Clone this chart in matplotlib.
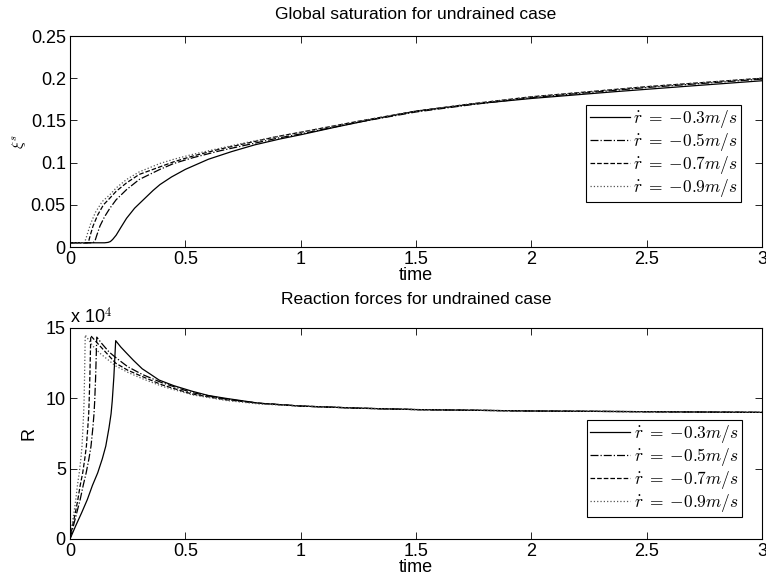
import matplotlib
matplotlib.use("Agg")
import matplotlib.pyplot as plt

plt.rcParams['font.family'] = ['Liberation Sans', 'DejaVu Sans']
plt.rcParams['mathtext.fontset'] = 'cm'

labels = [r'$\dot{r} \;=\; {-}0.3m/s$', r'$\dot{r} \;=\; {-}0.5m/s$',
          r'$\dot{r} \;=\; {-}0.7m/s$', r'$\dot{r} \;=\; {-}0.9m/s$']
styles = ['-', '-.', '--', ':']
colors = ['black', 'black', 'black', '#555555']

# global saturation
sat_t = [
    [0, 0.15, 0.165, 0.175, 0.185, 0.2, 0.22, 0.245, 0.28, 0.318, 0.36, 0.39, 0.44, 0.5, 0.6, 0.7, 0.8,
     0.91, 1.0, 1.15, 1.344, 1.5, 1.734, 2.0, 2.36, 2.7, 3.0],
    [0, 0.1, 0.108, 0.115, 0.13, 0.15, 0.173, 0.2, 0.245, 0.3, 0.39, 0.45, 0.535, 0.65, 0.75, 0.9, 1.0,
     1.25, 1.5, 1.75, 2.0, 2.5, 3.0],
    [0, 0.075, 0.082, 0.09, 0.1, 0.12, 0.145, 0.173, 0.2, 0.245, 0.3, 0.39, 0.45, 0.535, 0.65, 0.75, 0.9,
     1.0, 1.25, 1.5, 1.75, 2.0, 2.5, 3.0],
    [0, 0.06, 0.068, 0.078, 0.09, 0.11, 0.14, 0.173, 0.2, 0.245, 0.3, 0.39, 0.45, 0.535, 0.65, 0.75, 0.9,
     1.0, 1.25, 1.5, 1.75, 2.0, 2.5, 3.0],
]
sat_v = [
    [0.005, 0.005, 0.0055, 0.0065, 0.009, 0.014, 0.023, 0.034, 0.046, 0.056, 0.067, 0.074, 0.083, 0.092,
     0.104, 0.113, 0.121, 0.128, 0.133, 0.142, 0.153, 0.161, 0.169, 0.176, 0.184, 0.191, 0.197],
    [0.005, 0.005, 0.007, 0.013, 0.025, 0.036, 0.046, 0.056, 0.068, 0.080, 0.092, 0.099, 0.106, 0.114,
     0.120, 0.129, 0.134, 0.148, 0.160, 0.169, 0.177, 0.189, 0.199],
    [0.005, 0.005, 0.008, 0.016, 0.025, 0.038, 0.050, 0.058, 0.066, 0.076, 0.086, 0.095, 0.101, 0.108,
     0.116, 0.122, 0.131, 0.136, 0.149, 0.161, 0.170, 0.178, 0.190, 0.200],
    [0.005, 0.005, 0.009, 0.018, 0.028, 0.041, 0.054, 0.062, 0.070, 0.080, 0.089, 0.099, 0.104, 0.110,
     0.117, 0.123, 0.131, 0.136, 0.149, 0.161, 0.170, 0.178, 0.190, 0.200],
]

# reaction forces in units of 1e4
force_t = [
    [0, 0.025, 0.05, 0.075, 0.097, 0.12, 0.14, 0.155, 0.169, 0.178, 0.183, 0.19, 0.198,
     0.22, 0.24, 0.275, 0.313, 0.35, 0.386, 0.45, 0.53, 0.6, 0.675, 0.82, 1.0, 1.25, 1.5, 2.0, 2.5, 3.0],
    [0, 0.015, 0.029, 0.044, 0.057, 0.07, 0.082, 0.091, 0.099, 0.104, 0.107, 0.111, 0.116,
     0.14, 0.169, 0.198, 0.25, 0.313, 0.4, 0.53, 0.675, 0.82, 1.0, 1.25, 1.5, 2.0, 2.5, 3.0],
    [0, 0.011, 0.023, 0.034, 0.044, 0.055, 0.064, 0.071, 0.077, 0.081, 0.083, 0.086, 0.09,
     0.12, 0.145, 0.198, 0.25, 0.313, 0.4, 0.53, 0.675, 0.82, 1.0, 1.25, 1.5, 2.0, 2.5, 3.0],
    [0, 0.008, 0.017, 0.025, 0.032, 0.04, 0.047, 0.052, 0.056, 0.059, 0.061, 0.063, 0.066,
     0.1, 0.13, 0.198, 0.25, 0.313, 0.4, 0.53, 0.675, 0.82, 1.0, 1.25, 1.5, 2.0, 2.5, 3.0],
]
force_v = [
    [0, 0.95, 1.85, 2.8, 3.8, 4.7, 5.7, 6.6, 7.9, 8.9, 9.8, 11.5, 14.1,
     13.65, 13.3, 12.7, 12.1, 11.7, 11.3, 10.9, 10.5, 10.2, 10.0, 9.65, 9.45, 9.3, 9.2, 9.1, 9.05, 9.0],
    [0, 0.95, 1.85, 2.8, 3.8, 4.7, 5.7, 6.6, 7.9, 8.9, 9.8, 11.5, 14.35,
     13.85, 13.3, 12.9, 12.25, 11.7, 11.1, 10.4, 9.95, 9.65, 9.45, 9.3, 9.2, 9.1, 9.05, 9.0],
    [0, 0.95, 1.85, 2.8, 3.8, 4.7, 5.7, 6.6, 7.9, 8.9, 9.8, 11.5, 14.45,
     13.9, 13.45, 12.5, 12.0, 11.55, 10.95, 10.3, 9.9, 9.65, 9.45, 9.3, 9.2, 9.1, 9.05, 9.0],
    [0, 0.95, 1.85, 2.8, 3.8, 4.7, 5.7, 6.6, 7.9, 8.9, 9.8, 11.5, 14.5,
     13.7, 13.2, 12.3, 11.85, 11.4, 10.85, 10.25, 9.85, 9.6, 9.45, 9.3, 9.2, 9.1, 9.05, 9.0],
]

x_ticks = [0, 0.5, 1, 1.5, 2, 2.5, 3]
x_ticklabels = ['0', '0.5', '1', '1.5', '2', '2.5', '3']
sat_ticks = [0, 0.05, 0.1, 0.15, 0.2, 0.25]
sat_ticklabels = ['0', '0.05', '0.1', '0.15', '0.2', '0.25']
force_ticks = [0, 5, 10, 15]
force_ticklabels = ['0', '5', '10', '15']

fig = plt.figure(figsize=(7.66, 5.8), dpi=100)
ax1 = fig.add_axes([0.0914, 0.5741, 0.9034, 0.3638])
ax2 = fig.add_axes([0.0914, 0.0707, 0.9034, 0.3638])


def style_axes(ax):
    ax.set_xlim(0, 3)
    ax.set_xticks(x_ticks)
    ax.set_xticklabels(x_ticklabels)
    ax.tick_params(direction='in', top=True, right=True, length=5, width=0.6, labelsize=13, pad=3)
    for s in ax.spines.values():
        s.set_linewidth(0.8)
    ax.set_xlabel('time', fontsize=13, labelpad=-1)


def add_legend(ax, anchor):
    leg = ax.legend(loc='lower right', bbox_to_anchor=anchor, borderaxespad=0, fancybox=False,
                    edgecolor='black', framealpha=1, fontsize=12.5, labelspacing=0.05,
                    handlelength=2.3, handletextpad=0.2, borderpad=0.2)
    leg.get_frame().set_linewidth(0.8)


for t, v, ls, c, lab in zip(sat_t, sat_v, styles, colors, labels):
    ax1.plot(t, v, ls, color=c, lw=0.9, label=lab)
style_axes(ax1)
ax1.set_ylim(0, 0.25)
ax1.set_yticks(sat_ticks)
ax1.set_yticklabels(sat_ticklabels)
ax1.set_ylabel(r'$\xi^s$', fontsize=11, labelpad=2)
ax1.set_title('Global saturation for undrained case', fontsize=12.5, pad=12)
add_legend(ax1, (0.97, 0.213))

for t, v, ls, c, lab in zip(force_t, force_v, styles, colors, labels):
    ax2.plot(t, v, ls, color=c, lw=0.9, label=lab)
style_axes(ax2)
ax2.set_ylim(0, 15)
ax2.set_yticks(force_ticks)
ax2.set_yticklabels(force_ticklabels)
ax2.set_ylabel('R', fontsize=13, labelpad=6)
ax2.set_title('Reaction forces for undrained case', fontsize=12.5, pad=17)
ax2.text(0.0, 1.005, r'x 10$^4$', transform=ax2.transAxes, fontsize=13, va='bottom', ha='left')
add_legend(ax2, (0.971, 0.104))

fig.savefig('out.png', dpi=100)
